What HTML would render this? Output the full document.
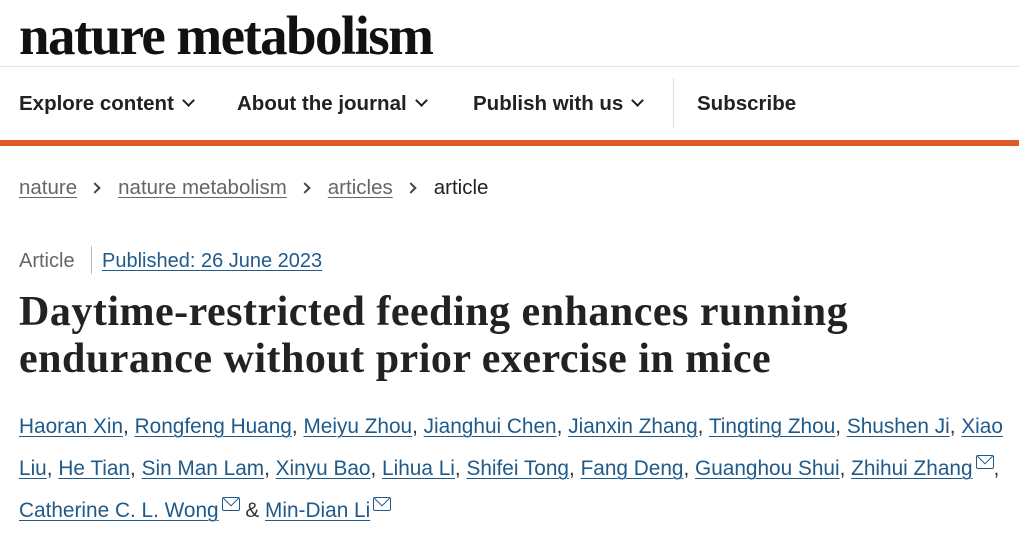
<!DOCTYPE html>
<html><head><meta charset="utf-8"><style>
body{margin:0;width:1019px;height:536px;background:#fff;overflow:hidden;position:relative;font-family:"Liberation Sans",sans-serif;color:#222}
.a{position:absolute;white-space:nowrap}
a{color:#1f5a8a;text-decoration:underline;text-decoration-thickness:1px;text-underline-offset:3px}
.nav{font-weight:bold;font-size:20.5px;color:#222;top:92px}
.chev{display:inline-block;width:7px;height:7px;border-right:2.5px solid #222;border-bottom:2.5px solid #222;transform:rotate(45deg);margin-left:10px;position:relative;top:-5px}
.crumb{top:176px;font-size:20.5px;color:#666}
.crumb a{color:#666}
.sep{display:inline-block;width:6px;height:6px;border-right:2px solid #444;border-top:2px solid #444;transform:rotate(45deg);margin:0 19px 0 14px;position:relative;top:-2px}
.auth{font-size:20.8px;color:#333}
.mail{display:inline-block;width:16px;height:12px;border:1.5px solid #1f5a8a;border-radius:2px;position:relative;top:-6px;margin-left:3px;overflow:hidden}
.mail:after{content:"";position:absolute;left:2px;top:-6px;width:10px;height:10px;border:1.5px solid #1f5a8a;transform:rotate(45deg)}
</style></head><body>
<div class="a" style="left:19px;top:4px;font-family:'Liberation Serif',serif;font-weight:bold;font-size:55px;letter-spacing:-1.6px;color:#111">nature metabolism</div>
<div class="a" style="left:0;top:66px;width:1019px;height:1px;background:#e4e4e4"></div>
<div class="a nav" style="left:19px">Explore content<span class="chev"></span></div>
<div class="a nav" style="left:237px">About the journal<span class="chev"></span></div>
<div class="a nav" style="left:473px">Publish with us<span class="chev"></span></div>
<div class="a" style="left:673px;top:78px;width:1px;height:50px;background:#ddd"></div>
<div class="a nav" style="left:697px">Subscribe</div>
<div class="a" style="left:0;top:140px;width:1019px;height:6px;background:#e05a28"></div>
<div class="a crumb" style="left:19px"><a>nature</a><span class="sep"></span><a>nature metabolism</a><span class="sep"></span><a>articles</a><span class="sep"></span><span style="color:#222">article</span></div>
<div class="a" style="left:19px;top:250px;font-size:20px;color:#666">Article</div>
<div class="a" style="left:91px;top:246px;width:1px;height:28px;background:#bbb"></div>
<div class="a" style="left:102px;top:250px;font-size:20px"><a>Published: 26 June 2023</a></div>
<div class="a" style="left:19px;top:289px;font-family:'Liberation Serif',serif;font-weight:bold;font-size:42px;line-height:47px;color:#222;letter-spacing:0.5px">Daytime-restricted feeding enhances running<br>endurance without prior exercise in mice</div>
<div class="a auth" style="left:19px;top:415px"><a>Haoran Xin</a>, <a>Rongfeng Huang</a>, <a>Meiyu Zhou</a>, <a>Jianghui Chen</a>, <a>Jianxin Zhang</a>, <a>Tingting Zhou</a>, <a>Shushen Ji</a>, <a>Xiao</a></div>
<div class="a auth" style="left:19px;top:457px"><a>Liu</a>, <a>He Tian</a>, <a>Sin Man Lam</a>, <a>Xinyu Bao</a>, <a>Lihua Li</a>, <a>Shifei Tong</a>, <a>Fang Deng</a>, <a>Guanghou Shui</a>, <a>Zhihui Zhang</a><span class="mail"></span>,</div>
<div class="a auth" style="left:19px;top:499px"><a>Catherine C. L. Wong</a><span class="mail"></span> &amp; <a>Min-Dian Li</a><span class="mail"></span></div>
</body></html>
